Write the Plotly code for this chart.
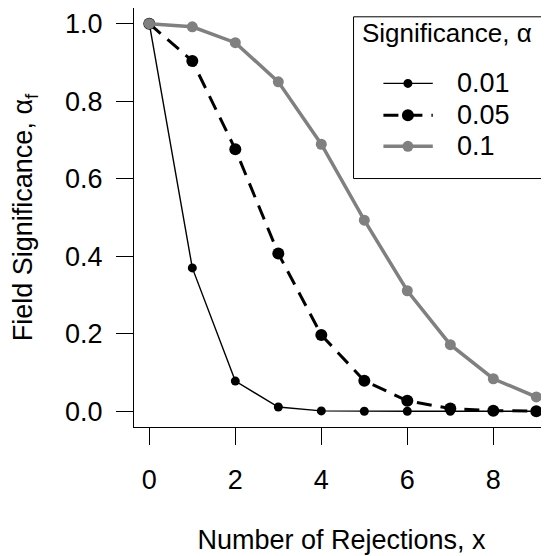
import plotly.graph_objects as go

# Data
rejections = [0, 1, 2, 3, 4, 5, 6, 7, 8, 9, 10]
alpha_001 = [1.0, 0.370, 0.078, 0.011, 0.001, 0.0, 0.0, 0.0, 0.0, 0.0, 0.0]
alpha_005 = [1.0, 0.904, 0.676, 0.407, 0.197, 0.079, 0.027, 0.007, 0.0015, 0.0003, 0.0]
alpha_010 = [1.0, 0.992, 0.951, 0.850, 0.689, 0.493, 0.311, 0.172, 0.084, 0.037, 0.015]
series_names = ["0.01", "0.05", "0.1"]
x_ticks = [0, 2, 4, 6, 8]
y_ticks = [0.0, 0.2, 0.4, 0.6, 0.8, 1.0]
y_tick_labels = ["0.0", "0.2", "0.4", "0.6", "0.8", "1.0"]
legend_title = "Significance, α"

FONT = "Liberation Sans, Arial, Helvetica, sans-serif"
FS = 27
GRAY = "#808080"

styles = [
    dict(line=dict(color="black", width=1.4), marker=dict(color="black", size=9, line=dict(width=0))),
    dict(line=dict(color="black", width=3, dash="15px,9px"), marker=dict(color="black", size=12, line=dict(width=0))),
    dict(line=dict(color=GRAY, width=3.5), marker=dict(color=GRAY, size=11, line=dict(width=0))),
]
series = [alpha_001, alpha_005, alpha_010]

fig = go.Figure()
for name, vals, st in zip(series_names, series, styles):
    fig.add_trace(go.Scatter(x=rejections, y=vals, name=name, mode="lines+markers",
                             line=st["line"], marker=st["marker"]))

# Legend drawn as a boxed key (paper coordinates of the plot area)
shapes = [dict(type="rect", xref="paper", yref="paper", x0=0.529, x1=0.992, y0=0.593, y1=0.979,
               line=dict(color="black", width=1), fillcolor="white", layer="above")]
annotations = [dict(text=legend_title, xref="paper", yref="paper", x=0.545, y=0.940,
                    xanchor="left", yanchor="middle", showarrow=False,
                    font=dict(family=FONT, size=FS - 1, color="black"))]
entry_y = [0.820, 0.744, 0.670]
for name, st, ey in zip(series_names, styles, entry_y):
    ln = st["line"]
    shapes.append(dict(type="line", xref="paper", yref="paper", x0=0.601, x1=0.720, y0=ey, y1=ey,
                       line=dict(color=ln["color"], width=ln["width"], dash=ln.get("dash", "solid")),
                       layer="above"))
    r = st["marker"]["size"] / 2
    shapes.append(dict(type="circle", xref="paper", yref="paper", xsizemode="pixel", ysizemode="pixel",
                       xanchor=0.660, yanchor=ey, x0=-r, x1=r, y0=-r, y1=r,
                       fillcolor=st["marker"]["color"], line=dict(width=0), layer="above"))
    annotations.append(dict(text=name, xref="paper", yref="paper", x=0.774, y=ey,
                            xanchor="left", yanchor="middle", showarrow=False,
                            font=dict(family=FONT, size=FS, color="black")))

fig.update_layout(
    width=541, height=548,
    margin=dict(l=126, r=0, t=0, b=129, pad=0),
    paper_bgcolor="white", plot_bgcolor="white",
    font=dict(family=FONT, size=FS, color="black"),
    showlegend=False,
    shapes=shapes,
    annotations=annotations,
    xaxis=dict(
        range=[-0.356, 9.295], tickmode="array", tickvals=x_ticks,
        ticks="outside", ticklen=17, tickwidth=1, tickcolor="black",
        showline=True, linecolor="black", linewidth=1, mirror=True,
        showgrid=False, zeroline=False, ticklabelstandoff=12,
        tickfont=dict(family=FONT, size=FS),
        title=dict(text="Number of Rejections, x", standoff=35,
                   font=dict(family=FONT, size=FS)),
    ),
    yaxis=dict(
        range=[-0.0405, 1.0405], tickmode="array", tickvals=y_ticks,
        ticktext=y_tick_labels,
        ticks="outside", ticklen=17, tickwidth=1, tickcolor="black",
        showline=True, linecolor="black", linewidth=1, mirror=False,
        showgrid=False, zeroline=False, ticklabelstandoff=8,
        tickfont=dict(family=FONT, size=FS),
        title=dict(text="Field Significance, α<sub>f</sub>", standoff=32,
                   font=dict(family=FONT, size=FS)),
    ),
)

fig.write_html("out.html")
